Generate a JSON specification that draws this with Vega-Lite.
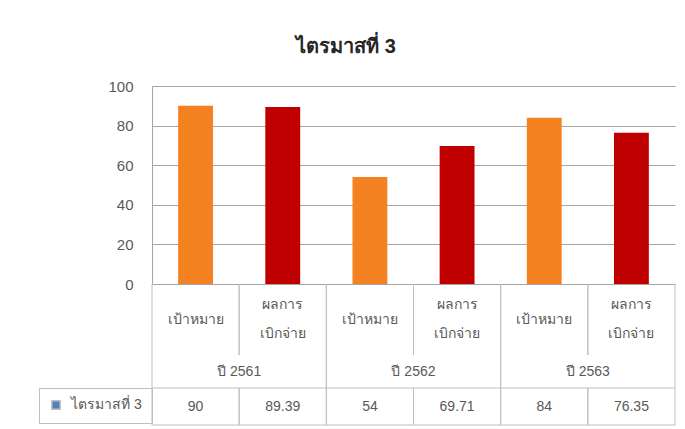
{
  "$schema": "https://vega.github.io/schema/vega-lite/v6.json",
  "background": "white",
  "padding": {"left": 38, "top": 37, "right": 8, "bottom": 2},
  "title": {"text": "ไตรมาสที่ 3", "fontSize": 20, "fontWeight": "bold", "color": "#262626", "anchor": "middle", "offset": 22, "dx": -11},
  "spacing": 0,
  "bounds": "flush",
  "vconcat": [
    {
      "width": 523,
      "height": 198,
      "data": {"values": [
        {"year": "ปี 2561", "metric": "เป้าหมาย", "cat": "2561 เป้าหมาย", "value": 90},
        {"year": "ปี 2561", "metric": "ผลการเบิกจ่าย", "cat": "2561 ผลการเบิกจ่าย", "value": 89.39},
        {"year": "ปี 2562", "metric": "เป้าหมาย", "cat": "2562 เป้าหมาย", "value": 54},
        {"year": "ปี 2562", "metric": "ผลการเบิกจ่าย", "cat": "2562 ผลการเบิกจ่าย", "value": 69.71},
        {"year": "ปี 2563", "metric": "เป้าหมาย", "cat": "2563 เป้าหมาย", "value": 84},
        {"year": "ปี 2563", "metric": "ผลการเบิกจ่าย", "cat": "2563 ผลการเบิกจ่าย", "value": 76.35}
      ]},
      "mark": {"type": "bar"},
      "encoding": {
        "x": {
          "field": "cat", "type": "nominal", "sort": null,
          "scale": {"paddingInner": 0.6, "paddingOuter": 0.3},
          "axis": null
        },
        "y": {
          "field": "value", "type": "quantitative",
          "scale": {"domain": [0, 100]},
          "axis": {
            "title": null, "values": [0, 20, 40, 60, 80, 100], "ticks": false,
            "labelPadding": 19, "labelFontSize": 15, "labelColor": "#595959",
            "domainColor": "#a6a6a6", "gridColor": "#a6a6a6"
          }
        },
        "color": {
          "field": "metric", "type": "nominal",
          "scale": {"domain": ["เป้าหมาย", "ผลการเบิกจ่าย"], "range": ["#F58220", "#C00000"]},
          "legend": null
        }
      }
    },
    {
      "width": 523,
      "height": 71,
      "data": {"values": [
        {"cat": "2561 เป้าหมาย"},
        {"cat": "2561 ผลการเบิกจ่าย"},
        {"cat": "2562 เป้าหมาย"},
        {"cat": "2562 ผลการเบิกจ่าย"},
        {"cat": "2563 เป้าหมาย"},
        {"cat": "2563 ผลการเบิกจ่าย"}
      ]},
      "layer": [
        {
          "data": {"values": [
            {"cat": "2561 เป้าหมาย", "label": "เป้าหมาย"},
            {"cat": "2562 เป้าหมาย", "label": "เป้าหมาย"},
            {"cat": "2563 เป้าหมาย", "label": "เป้าหมาย"}
          ]},
          "mark": {"type": "text", "fontSize": 14, "color": "#595959"},
          "encoding": {
            "x": {"field": "cat", "type": "nominal", "scale": {"domain": ["2561 เป้าหมาย", "2561 ผลการเบิกจ่าย", "2562 เป้าหมาย", "2562 ผลการเบิกจ่าย", "2563 เป้าหมาย", "2563 ผลการเบิกจ่าย"], "paddingInner": 0, "paddingOuter": 0}, "axis": null},
            "text": {"field": "label", "type": "nominal"}
          }
        },
        {
          "data": {"values": [
            {"cat": "2561 ผลการเบิกจ่าย", "label": "ผลการ\nเบิกจ่าย"},
            {"cat": "2562 ผลการเบิกจ่าย", "label": "ผลการ\nเบิกจ่าย"},
            {"cat": "2563 ผลการเบิกจ่าย", "label": "ผลการ\nเบิกจ่าย"}
          ]},
          "mark": {"type": "text", "fontSize": 14, "color": "#595959", "lineBreak": "\n", "lineHeight": 29, "dy": -14.5},
          "encoding": {
            "x": {"field": "cat", "type": "nominal", "axis": null},
            "text": {"field": "label", "type": "nominal"}
          }
        },
        {
          "mark": {"type": "rule", "color": "#bfbfbf"},
          "encoding": {
            "x": {"field": "cat", "type": "nominal", "bandPosition": 0, "axis": null}
          }
        },
        {
          "mark": {"type": "rule", "color": "#bfbfbf"},
          "encoding": {
            "x": {"field": "cat", "type": "nominal", "bandPosition": 1, "axis": null}
          }
        }
      ]
    },
    {
      "width": 523,
      "height": 33,
      "data": {"values": [
        {"year": "ปี 2561"},
        {"year": "ปี 2562"},
        {"year": "ปี 2563"}
      ]},
      "layer": [
        {
          "mark": {"type": "text", "fontSize": 14, "color": "#595959"},
          "encoding": {
            "x": {"field": "year", "type": "nominal", "sort": null, "scale": {"paddingInner": 0, "paddingOuter": 0}, "axis": null},
            "text": {"field": "year", "type": "nominal"}
          }
        },
        {
          "mark": {"type": "rule", "color": "#bfbfbf"},
          "encoding": {
            "x": {"field": "year", "type": "nominal", "sort": null, "bandPosition": 0, "axis": null}
          }
        },
        {
          "mark": {"type": "rule", "color": "#bfbfbf"},
          "encoding": {
            "x": {"field": "year", "type": "nominal", "sort": null, "bandPosition": 1, "axis": null}
          }
        }
      ]
    },
    {
      "width": 523,
      "height": 37,
      "data": {"values": [
        {"cat": "2561 เป้าหมาย", "value": 90, "series": "ไตรมาสที่ 3"},
        {"cat": "2561 ผลการเบิกจ่าย", "value": 89.39, "series": "ไตรมาสที่ 3"},
        {"cat": "2562 เป้าหมาย", "value": 54, "series": "ไตรมาสที่ 3"},
        {"cat": "2562 ผลการเบิกจ่าย", "value": 69.71, "series": "ไตรมาสที่ 3"},
        {"cat": "2563 เป้าหมาย", "value": 84, "series": "ไตรมาสที่ 3"},
        {"cat": "2563 ผลการเบิกจ่าย", "value": 76.35, "series": "ไตรมาสที่ 3"}
      ]},
      "layer": [
        {
          "mark": {"type": "rect", "fillOpacity": 0, "stroke": "#bfbfbf", "strokeWidth": 1},
          "encoding": {
            "x": {"field": "cat", "type": "nominal", "sort": null, "scale": {"paddingInner": 0, "paddingOuter": 0}, "axis": null},
            "fill": {
              "field": "series", "type": "nominal",
              "scale": {"range": ["#4F81BD"]},
              "legend": {
                "orient": "left", "title": null, "offset": 0, "padding": 10,
                "strokeColor": "#bfbfbf", "symbolType": "square", "symbolSize": 70,
                "symbolOpacity": 1,
                "labelFontSize": 14, "labelColor": "#595959", "labelOffset": 8
              }
            }
          }
        },
        {
          "mark": {"type": "text", "fontSize": 14, "color": "#595959"},
          "encoding": {
            "x": {"field": "cat", "type": "nominal", "sort": null, "axis": null},
            "text": {"field": "value", "type": "nominal"}
          }
        }
      ]
    }
  ],
  "resolve": {
    "scale": {"fill": "independent"},
    "legend": {"fill": "independent"}
  },
  "config": {
    "view": {"stroke": null}
  }
}
